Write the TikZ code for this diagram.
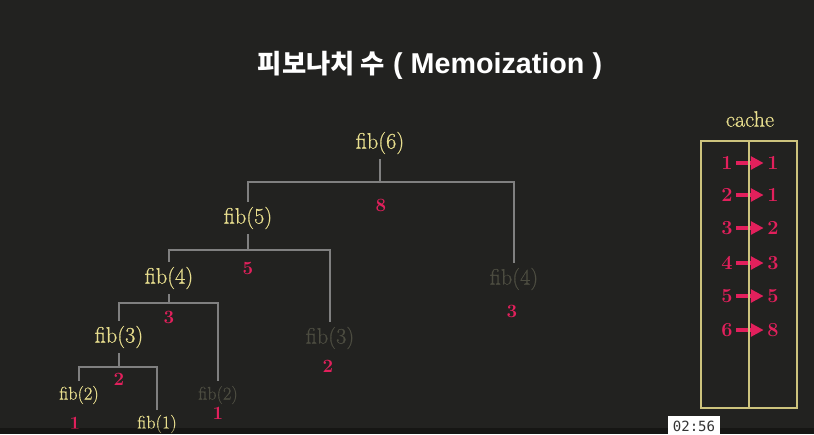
\documentclass[tikz,border=0pt]{standalone}
\usepackage{fontspec}
\newfontfamily\krfont{Noto Sans CJK KR}
\newfontfamily\latinbold{Liberation Sans}
\newfontfamily\clockfont{DejaVu Sans Mono}
\newfontfamily\fibfont{Latin Modern Roman}[FakeBold=0.7]
\usetikzlibrary{arrows.meta}
\usetikzlibrary{positioning}
\definecolor{bgdark}{RGB}{34,34,32}
\definecolor{fibyellow}{RGB}{232,222,142}
\definecolor{fibred}{RGB}{226,32,92}
\definecolor{fibgrey}{RGB}{76,76,64}
\definecolor{edgegrey}{RGB}{128,128,128}
\definecolor{cacheline}{RGB}{205,195,125}
\tikzset{
  call/.style={text=fibyellow,inner sep=4pt,font=\fibfont\fontsize{19}{19}\selectfont},
  smallcall/.style={call,font=\fibfont\fontsize{15.5}{15.5}\selectfont},
  donecall/.style={text=fibgrey},
  result/.style={text=fibred,inner sep=2pt,font=\fontsize{16}{16}\selectfont\bfseries},
  edge/.style={draw=edgegrey,line width=1.5pt},
  cachenum/.style={text=fibred,inner sep=3pt,font=\fontsize{17}{17}\selectfont\bfseries},
  cachearrow/.style={draw=fibred,line width=3pt,-{Triangle[length=11pt,width=11pt]}},
}

\begin{document}
\begin{tikzpicture}[x=0.03cm,y=-0.03cm]
\fill[bgdark] (0,0) rectangle (814,434);
\useasboundingbox (0,0) rectangle (814,434);
\node[text=white] (title) at (430,65) {{\krfont\fontsize{22.5}{22.5}\selectfont\bfseries 피보나치 수}{\latinbold\fontsize{24.5}{24.5}\selectfont\bfseries\ ( Memoization )}};

% calls
\node[call] (f6) at (380,143) {fib(6)};
\node[call] (f5) at (248,218) {fib(5)};
\node[call] (f4) at (169,278) {fib(4)};
\node[call] (f3) at (119,337) {fib(3)};
\node[smallcall] (f2) at (79,395) {fib(2)};
\node[smallcall] (f1) at (157,424) {fib(1)};
\node[call,donecall] (g4) at (514,279) {fib(4)};
\node[call,donecall] (g3) at (330,338) {fib(3)};
\node[smallcall,donecall] (g2) at (218,395) {fib(2)};

% results
\node[result] (r6) at (381,205) {8};
\node[result] (r5) at (248,268) {5};
\node[result] (r4) at (169,317) {3};
\node[result] (r3) at (119,379) {2};
\node[result] (r2) at (75,423) {1};
\node[result] (s2) at (218,413) {1};
\node[result] (s3) at (328,366) {2};
\node[result] (s4) at (512,311) {3};

% edges
\coordinate (j6) at (380,182);
\coordinate (j5) at (248,250);
\coordinate (j4) at (169,303);
\coordinate (j3) at (119,367);
\draw[edge] (f6.south) -- (j6);
\draw[edge] (f5.north) |- (j6) -| (g4.north);
\draw[edge] (f5.south) -- (j5);
\draw[edge] (f4.north) |- (j5) -| (g3.north);
\draw[edge] (f4.south) -- (j4);
\draw[edge] (f3.north) |- (j4) -| (g2.north);
\draw[edge] (f3.south) -- (j3);
\draw[edge] (f2.north) |- (j3) -| (f1.north);

% cache
\node[call] (cachelabel) at (750,119) {cache};
\draw[cacheline,line width=1.2pt] (701,141) rectangle (797,408);
\foreach \k/\v/\y in {1/1/163,2/1/195,3/2/228,4/3/263,5/5/296,6/8/330}{
  \node[cachenum] (key\k) at (727,\y) {\k};
  \node[cachenum] (val\k) at (773,\y) {\v};
  \draw[cachearrow] (key\k) -- (val\k);
}
\draw[cacheline,line width=1.5pt] (749,141) -- (749,408);

% player bar
\fill[black,opacity=0.35] (0,428) rectangle (814,434);
\node[fill=white,text=black!80,inner xsep=4pt,inner ysep=4pt,font=\clockfont\fontsize{12}{12}\selectfont] (clock) at (694,426) {02:56};
\end{tikzpicture}
\end{document}
